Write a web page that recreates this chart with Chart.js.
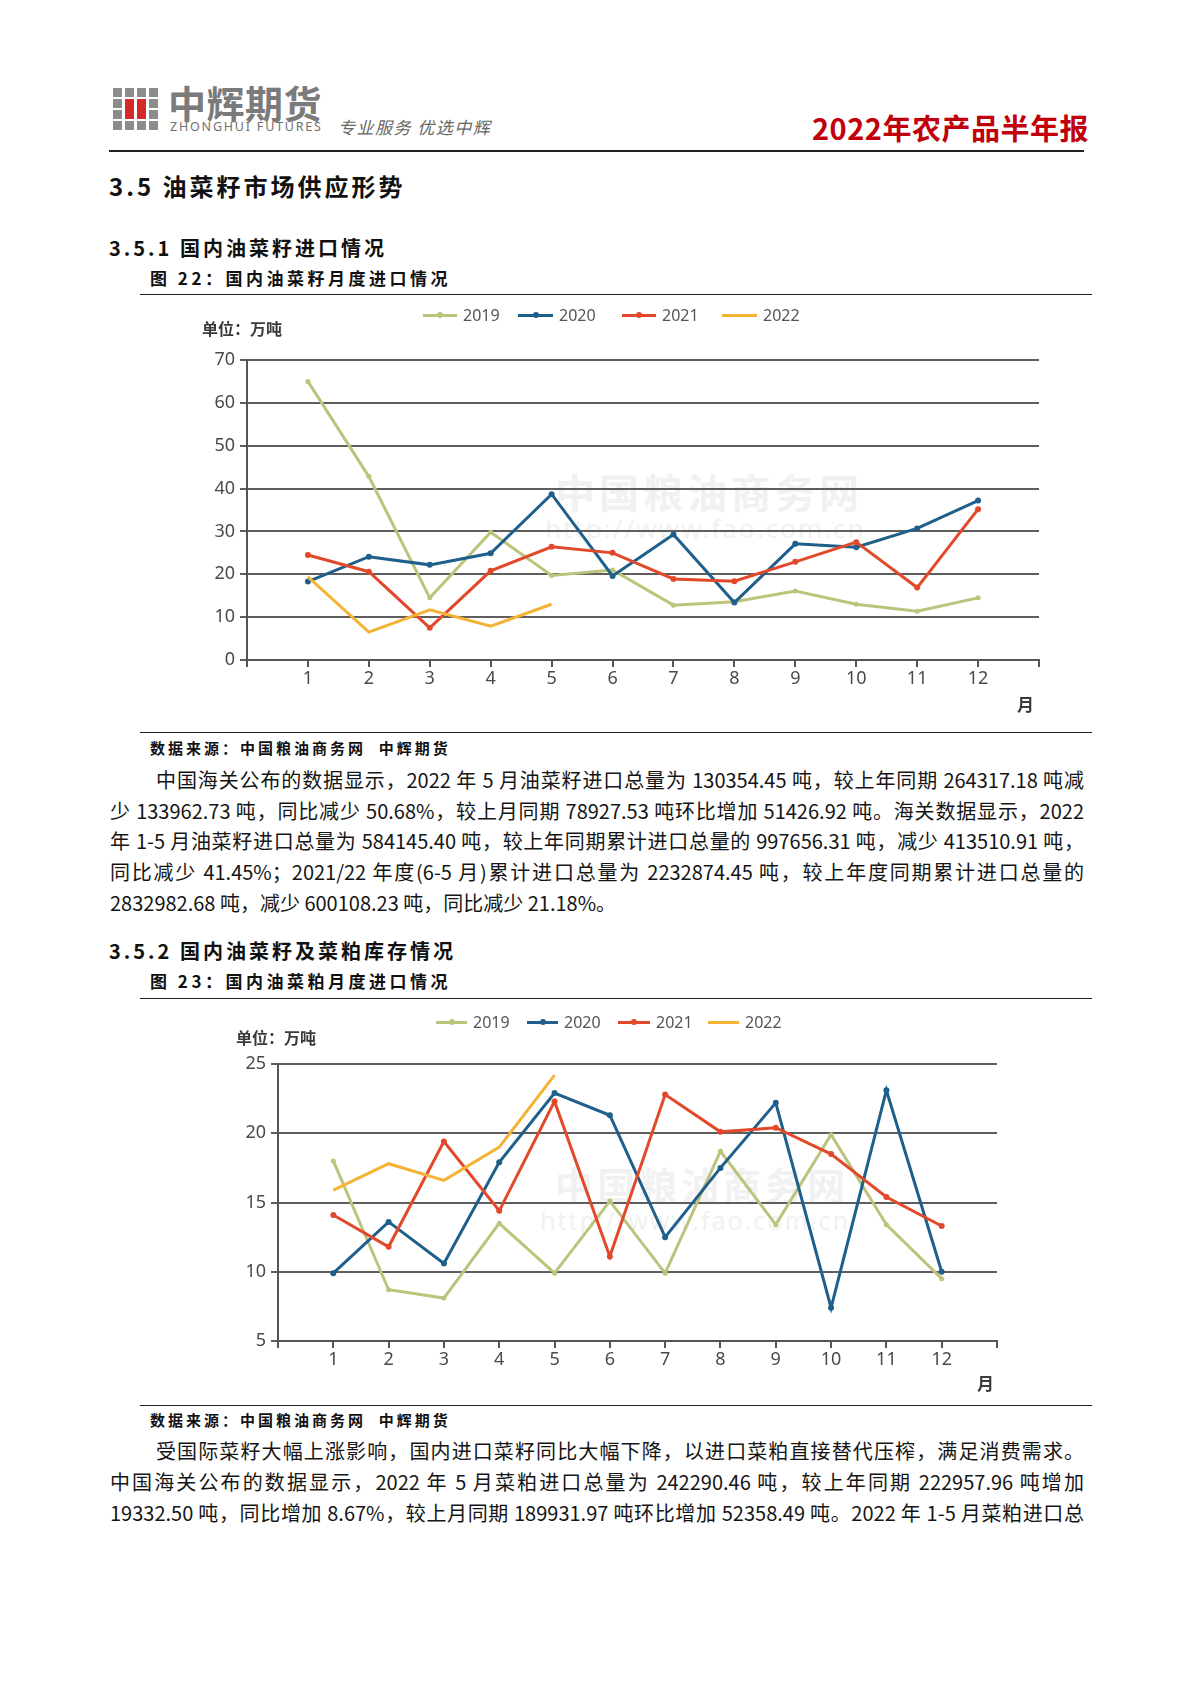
<!DOCTYPE html>
<html><head><meta charset="utf-8">
<script src="https://cdn.jsdelivr.net/npm/chart.js@4.4.0/dist/chart.umd.min.js"></script>
<style>
body{margin:0;background:#fff;width:1190px;height:1683px;position:relative;overflow:hidden;font-family:"Noto Sans CJK SC","Noto Sans",sans-serif;color:#111}
.a{position:absolute;white-space:nowrap}
.hr{position:absolute;background:#222}
.line{position:absolute;left:110px;width:974px;height:30px;line-height:30px;font-size:20px;font-family:"Liberation Sans Narrow","Noto Sans CJK SC",sans-serif;text-align:justify;text-align-last:justify;color:#151515}
.line.ind{left:156px;width:928px}
.line.last{text-align-last:left}
.h1{font-size:24px;font-weight:700;letter-spacing:3px}
.h2{font-size:20px;font-weight:700;letter-spacing:3px}
.fig{font-size:17px;font-weight:700;letter-spacing:3.5px}
.src{font-size:15px;font-weight:700;letter-spacing:3px}
.box{position:absolute;left:140px;width:952px}
.unit{position:absolute;font-size:16px;font-weight:700;color:#3a3a3a}
.mon{position:absolute;font-size:17px;font-weight:700;color:#3a3a3a}
.lg{position:absolute;height:20px}
.lg .ln{position:absolute;top:9px;height:3px}
.lg .dt{position:absolute;top:7px;width:6px;height:6px;border-radius:3px}
.lg .tx{position:absolute;top:0;font-size:16px;line-height:20px;color:#555;font-family:"Noto Sans",sans-serif}
.wm{position:absolute;color:#f1f1f1;font-weight:700;white-space:nowrap}
.sq{position:absolute;width:9px;height:9px;background:#8c8c8c}
</style></head>
<body>
<!-- header logo -->
<div id="logo"></div>
<div class="a" style="left:168px;top:80px;font-size:38px;line-height:44px;font-weight:700;color:#7b7b7b;letter-spacing:0.5px">中辉期货</div>
<div class="a" style="left:170px;top:119px;font-size:12.5px;line-height:16px;color:#6f6f6f;letter-spacing:1.8px;font-family:'Noto Sans',sans-serif">ZHONGHUI FUTURES</div>
<div class="a" style="left:338px;top:116px;font-size:17px;line-height:22px;color:#666;letter-spacing:1.5px;font-style:italic">专业服务 优选中辉</div>
<div class="a" style="left:812px;top:109px;font-size:29px;line-height:36px;font-weight:700;color:#c0000a;letter-spacing:0.5px">2022年农产品半年报</div>
<div class="hr" style="left:109px;top:150px;width:975px;height:2px"></div>

<div class="a h1" style="left:109px;top:170px;line-height:32px">3.5 油菜籽市场供应形势</div>
<div class="a h2" style="left:109px;top:234px;line-height:28px">3.5.1 国内油菜籽进口情况</div>
<div class="a fig" style="left:150px;top:266px;line-height:24px">图 22：国内油菜籽月度进口情况</div>
<div class="hr" style="left:140px;top:294px;width:952px;height:1px"></div>

<div class="wm" style="left:555px;top:462px;font-size:40px;letter-spacing:4px">中国粮油商务网</div>
<div class="wm" style="left:545px;top:510px;font-size:26px;font-weight:400;letter-spacing:2px;font-family:'Noto Sans',sans-serif">http://www.fao.com.cn</div>
<div class="box" style="top:296px;height:434px"><canvas id="c1"></canvas></div>
<div class="unit" style="left:202px;top:316px">单位：万吨</div>
<div class="mon" style="left:1017px;top:691px">月</div>
<div id="lg1"></div>
<div class="hr" style="left:140px;top:732px;width:952px;height:1px"></div>

<div class="a src" style="left:150px;top:737px;line-height:22px">数据来源：中国粮油商务网&nbsp;&nbsp;中辉期货</div>
<div class="line ind" style="top:765px">中国海关公布的数据显示，2022 年 5 月油菜籽进口总量为 130354.45 吨，较上年同期 264317.18 吨减</div>
<div class="line" style="top:796px">少 133962.73 吨，同比减少 50.68%，较上月同期 78927.53 吨环比增加 51426.92 吨。海关数据显示，2022</div>
<div class="line" style="top:826px">年 1-5 月油菜籽进口总量为 584145.40 吨，较上年同期累计进口总量的 997656.31 吨，减少 413510.91 吨，</div>
<div class="line" style="top:857px">同比减少 41.45%；2021/22 年度(6-5 月)累计进口总量为 2232874.45 吨，较上年度同期累计进口总量的</div>
<div class="line last" style="top:888px">2832982.68 吨，减少 600108.23 吨，同比减少 21.18%。</div>

<div class="a h2" style="left:109px;top:937px;line-height:28px">3.5.2 国内油菜籽及菜粕库存情况</div>
<div class="a fig" style="left:150px;top:969px;line-height:24px">图 23：国内油菜粕月度进口情况</div>
<div class="hr" style="left:140px;top:998px;width:952px;height:1px"></div>

<div class="wm" style="left:555px;top:1156px;font-size:38px;letter-spacing:4px">中国粮油商务网</div>
<div class="wm" style="left:540px;top:1203px;font-size:25px;font-weight:400;letter-spacing:2px;font-family:'Noto Sans',sans-serif">http://www.fao.com.cn</div>
<div class="box" style="top:1000px;height:403px"><canvas id="c2"></canvas></div>
<div class="unit" style="left:236px;top:1025px">单位：万吨</div>
<div class="mon" style="left:977px;top:1370px">月</div>
<div id="lg2"></div>
<div class="hr" style="left:140px;top:1405px;width:952px;height:1px"></div>

<div class="a src" style="left:150px;top:1409px;line-height:22px">数据来源：中国粮油商务网&nbsp;&nbsp;中辉期货</div>
<div class="line ind" style="top:1436px">受国际菜籽大幅上涨影响，国内进口菜籽同比大幅下降，以进口菜粕直接替代压榨，满足消费需求。</div>
<div class="line" style="top:1467px">中国海关公布的数据显示，2022 年 5 月菜粕进口总量为 242290.46 吨，较上年同期 222957.96 吨增加</div>
<div class="line" style="top:1498px">19332.50 吨，同比增加 8.67%，较上月同期 189931.97 吨环比增加 52358.49 吨。2022 年 1-5 月菜粕进口总</div>

<script>
// ---- data ----
const months = [1,2,3,4,5,6,7,8,9,10,11,12];
const years = ['2019','2020','2021','2022'];
const colors = ['#bcc47c','#1f5f8b','#e2492b','#f5b335'];
// 油菜籽月度进口 (万吨)
const seed2019 = [65.0,42.8,14.5,29.8,19.7,21.0,12.8,13.6,16.1,13.0,11.4,14.5];
const seed2020 = [18.3,24.1,22.2,24.9,38.7,19.6,29.3,13.4,27.1,26.3,30.7,37.2];
const seed2021 = [24.5,20.6,7.5,20.8,26.4,25.0,18.9,18.4,22.9,27.5,16.9,35.2];
const seed2022 = [19.4,6.5,11.7,7.9,13.0];
// 油菜粕月度进口 (万吨)
const meal2019 = [18.0,8.7,8.1,13.5,9.9,15.1,9.9,18.7,13.4,19.9,13.4,9.5];
const meal2020 = [9.9,13.6,10.6,17.9,22.9,21.3,12.5,17.5,22.2,7.4,23.1,10.0];
const meal2021 = [14.1,11.8,19.4,14.4,22.3,11.1,22.8,20.1,20.4,18.5,15.4,13.3];
const meal2022 = [15.9,17.8,16.6,19.0,24.2];
// axis ranges
const seedAxis = {min:0,max:70,step:10};
const mealAxis = {min:5,max:25,step:5};

// ---- logo ----
(function(){
  const lg=document.getElementById('logo');
  const xs=[113,125,137,149], ys=[88,99,110,121];
  for(let r=0;r<4;r++)for(let c=0;c<4;c++){
    const d=document.createElement('div');d.className='sq';
    d.style.left=xs[c]+'px';d.style.top=ys[r]+'px';
    if((c===1||c===2)&&(r===1||r===2)){d.style.background='#d42a2a';if(r===1){d.style.height='20px';}else{d.style.display='none';}}
    lg.appendChild(d);
  }
})();

function legend(id, top, items){
  const el=document.getElementById(id);
  items.forEach((it,i)=>{
    const g=document.createElement('div');g.className='lg';g.style.left=it.x+'px';g.style.top=top+'px';
    g.innerHTML='<div class="ln" style="left:0;width:'+it.w+'px;background:'+colors[i]+'"></div>'+
      (i<3?'<div class="dt" style="left:'+(it.w/2-3)+'px;background:'+colors[i]+'"></div>':'')+
      '<div class="tx" style="left:'+(it.w+6)+'px">'+years[i]+'</div>';
    el.appendChild(g);
  });
}
legend('lg1',305,[{x:423,w:34},{x:518,w:35},{x:622,w:34},{x:722,w:35}]);
legend('lg2',1012,[{x:436,w:31},{x:527,w:31},{x:618,w:32},{x:708,w:31}]);

function ds(arr,i,radius){
  return {label:years[i],data:arr.map((v,k)=>({x:months[k],y:v})),borderColor:colors[i],backgroundColor:colors[i],
    borderWidth:3,pointRadius:radius,pointHoverRadius:radius,pointBorderWidth:0,tension:0,order:4-i};
}
function makeChart(id,sets,axis,yWidth,pad){
  return new Chart(document.getElementById(id),{
    type:'line',
    data:{datasets:sets},
    options:{
      responsive:true,maintainAspectRatio:false,animation:false,
      layout:{padding:pad},
      plugins:{legend:{display:false},tooltip:{enabled:false}},
      scales:{
        x:{type:'linear',min:0,max:13,
          ticks:{stepSize:1,autoSkip:false,padding:1,color:'#4a4a4a',font:{family:'Noto Sans',size:18},
            callback:v=>(v>=1&&v<=12)?String(months[v-1]):''},
          grid:{drawOnChartArea:false,drawTicks:true,tickLength:7,color:'#555',lineWidth:2},
          border:{display:true,color:'#555',width:2},
          afterFit:s=>{s.height=40;}},
        y:{min:axis.min,max:axis.max,
          ticks:{stepSize:axis.step,padding:5,color:'#4a4a4a',font:{family:'Noto Sans',size:18}},
          grid:{color:'#5e5e5e',lineWidth:2,drawTicks:true,tickLength:7},
          border:{display:true,color:'#555',width:2},
          afterFit:s=>{s.width=yWidth;}}
      }
    }
  });
}
makeChart('c1',[ds(seed2019,0,2.5),ds(seed2020,1,3),ds(seed2021,2,3),ds(seed2022,3,0)],seedAxis,107,{top:64,bottom:30,left:0,right:53});
makeChart('c2',[ds(meal2019,0,2.5),ds(meal2020,1,3),ds(meal2021,2,3),ds(meal2022,3,0)],mealAxis,138,{top:64,bottom:22,left:0,right:95});
</script>
</body></html>
